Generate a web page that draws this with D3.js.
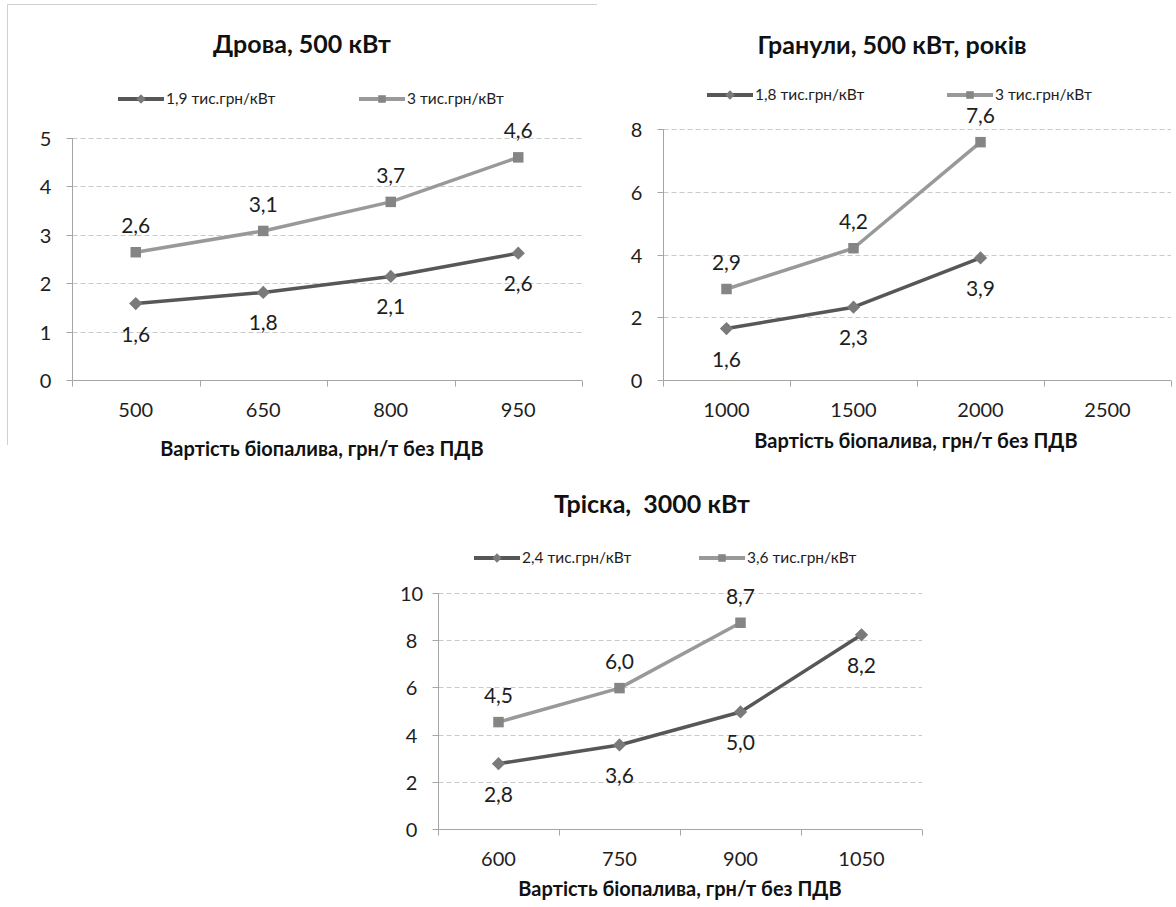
<!DOCTYPE html>
<html><head><meta charset="utf-8">
<script src="https://cdn.jsdelivr.net/npm/d3@7"></script>
<style>
html,body{margin:0;padding:0;background:#fff;}
svg{display:block;font-family:Lato,"Open Sans",sans-serif;}
</style></head>
<body>
<svg id="c" width="1176" height="907"></svg>
<script>
// ---- Data ----
const titles = ["Дрова, 500 кВт", "Гранули, 500 кВт, років", "Тріска,  3000 кВт"];
const xAxisTitle = "Вартість біопалива, грн/т без ПДВ";

const drovaCategories = ["500", "650", "800", "950"];
const drovaLowLabel = "1,9 тис.грн/кВт";
const drovaHighLabel = "3 тис.грн/кВт";
const drovaLow = [1.58, 1.81, 2.14, 2.62];
const drovaHigh = [2.64, 3.08, 3.68, 4.60];
const drovaTicks = [0, 1, 2, 3, 4, 5];

const granCategories = ["1000", "1500", "2000", "2500"];
const granLowLabel = "1,8 тис.грн/кВт";
const granHighLabel = "3 тис.грн/кВт";
const granLow = [1.64, 2.32, 3.89, null];
const granHigh = [2.90, 4.20, 7.58, null];
const granTicks = [0, 2, 4, 6, 8];

const triskaCategories = ["600", "750", "900", "1050"];
const triskaLowLabel = "2,4 тис.грн/кВт";
const triskaHighLabel = "3,6 тис.грн/кВт";
const triskaLow = [2.77, 3.56, 4.96, 8.23];
const triskaHigh = [4.53, 5.97, 8.74, null];
const triskaTicks = [0, 2, 4, 6, 8, 10];

// ---- Style ----
const darkLine = "#575757", darkMarker = "#7a7a7a";
const lightLine = "#999999", lightMarker = "#858585";
const gridColor = "#c9c9c9", axisColor = "#a6a6a6", textColor = "#1e1e1e";
const FS = {title: 25, legend: 15.5, tick: 20, label: 21, xtitle: 20};

const svg = d3.select("#c");
const fmt = v => d3.format(".1f")(v).replace(".", ",");

// border fragment of the first chart frame
svg.append("path").attr("d", "M7.5,445 V4.5 H597").attr("fill", "none")
  .attr("stroke", "#d0d0d0").attr("stroke-width", 1);

function drawChart(cfg) {
  const g = svg.append("g");
  const x = d3.scaleBand().domain(cfg.categories).range([cfg.x0, cfg.x1]).padding(0);
  const y = d3.scaleLinear().domain([0, d3.max(cfg.ticks)]).range([cfg.yBottom, cfg.yTop]);
  const cx = c => x(c) + x.bandwidth() / 2;
  const ax = Math.round(cfg.x0) + 0.5;

  // gridlines
  g.selectAll(".grid").data(cfg.ticks.filter(t => t > 0)).join("line")
    .attr("x1", ax).attr("x2", cfg.x1)
    .attr("y1", d => Math.round(y(d)) + 0.5).attr("y2", d => Math.round(y(d)) + 0.5)
    .attr("stroke", gridColor).attr("stroke-dasharray", "5,3");

  // y axis
  const yAxis = d3.axisLeft(y).tickValues(cfg.ticks).tickSize(6).tickPadding(0).tickFormat(d3.format("d"));
  const ya = g.append("g").attr("transform", `translate(${ax},0)`).call(yAxis);
  ya.selectAll(".tick").attr("transform", d => `translate(0,${Math.round(y(d)) + 0.5})`);
  ya.select(".domain").attr("stroke", axisColor).attr("d", `M0,${Math.round(y(d3.max(cfg.ticks)))}V${Math.round(cfg.yBottom) + 0.5}`);
  ya.selectAll(".tick line").attr("stroke", axisColor);
  ya.selectAll(".tick text").attr("fill", textColor).attr("text-anchor", "middle")
    .attr("x", -27).attr("dy", "0.35em")
    .style("font-size", FS.tick + "px").style("font-family", "Lato,'Open Sans',sans-serif");

  // x axis line with ticks at band boundaries
  const bounds = cfg.categories.map(c => x(c)).concat([cfg.x1]);
  const xb = Math.round(cfg.yBottom) + 0.5;
  g.append("line").attr("x1", ax).attr("x2", cfg.x1).attr("y1", xb).attr("y2", xb).attr("stroke", axisColor);
  g.selectAll(".xt").data(bounds).join("line")
    .attr("x1", d => Math.round(d) + 0.5).attr("x2", d => Math.round(d) + 0.5)
    .attr("y1", xb).attr("y2", xb + 6).attr("stroke", axisColor);
  g.selectAll(".xl").data(cfg.categories).join("text")
    .attr("x", d => cx(d)).attr("y", cfg.yBottom + 37).attr("text-anchor", "middle")
    .attr("fill", textColor).style("font-size", FS.tick + "px").text(d => d);

  // axis title
  g.append("text").attr("x", cfg.xTitleX).attr("y", cfg.xTitleY).attr("text-anchor", "middle")
    .attr("fill", "#111").style("font-size", FS.xtitle + "px").style("font-weight", "bold").text(xAxisTitle);

  // chart title
  g.append("text").attr("x", cfg.titleX).attr("y", cfg.titleY).attr("text-anchor", "middle")
    .attr("fill", "#111").style("font-size", FS.title + "px").style("font-weight", "bold")
    .style("white-space", "pre").text(cfg.title);

  const square = d3.symbol(d3.symbolSquare, 110)();
  const diamond = d3.symbol(d3.symbolSquare, 88)();
  const series = [
    {vals: cfg.high, line: lightLine, marker: lightMarker, path: square, rot: 0, lab: cfg.highLabel, pos: "above", legX: cfg.legX2},
    {vals: cfg.low, line: darkLine, marker: darkMarker, path: diamond, rot: 45, lab: cfg.lowLabel, pos: "below", legX: cfg.legX1}
  ];

  // legend
  series.forEach(s => {
    const lg = g.append("g").attr("transform", `translate(${s.legX},${cfg.legY})`);
    lg.append("line").attr("x1", 0).attr("x2", 46).attr("y1", 0).attr("y2", 0)
      .attr("stroke", s.line).attr("stroke-width", 4);
    lg.append("path").attr("d", s.path).attr("transform", `translate(23,0) rotate(${s.rot}) scale(0.72)`).attr("fill", s.marker);
    lg.append("text").attr("x", 48).attr("y", 0).attr("dy", "0.35em").attr("fill", textColor)
      .style("font-size", FS.legend + "px").text(s.lab);
  });

  // series
  series.slice().reverse().forEach(s => {
    const pts = cfg.categories.map((c, i) => ({c, v: s.vals[i]})).filter(p => p.v != null);
    const line = d3.line().x(p => cx(p.c)).y(p => y(p.v));
    g.append("path").datum(pts).attr("d", line).attr("fill", "none")
      .attr("stroke", s.line).attr("stroke-width", 3.5).attr("stroke-linejoin", "round");
    g.selectAll(null).data(pts).join("path")
      .attr("d", s.path)
      .attr("transform", p => `translate(${cx(p.c)},${y(p.v)}) rotate(${s.rot})`).attr("fill", s.marker);
    g.selectAll(null).data(pts).join("text")
      .attr("x", p => cx(p.c)).attr("y", p => y(p.v) + (s.pos === "above" ? -19 : 38))
      .attr("text-anchor", "middle").attr("fill", textColor).style("font-size", FS.label + "px")
      .text(p => fmt(p.v));
  });
}

drawChart({title: titles[0], categories: drovaCategories, low: drovaLow, high: drovaHigh,
  lowLabel: drovaLowLabel, highLabel: drovaHighLabel, ticks: drovaTicks,
  x0: 72, x1: 582, yTop: 138, yBottom: 380, titleX: 302, titleY: 53,
  legX1: 118, legX2: 359, legY: 99, xTitleX: 322, xTitleY: 456});

drawChart({title: titles[1], categories: granCategories, low: granLow, high: granHigh,
  lowLabel: granLowLabel, highLabel: granHighLabel, ticks: granTicks,
  x0: 663, x1: 1171, yTop: 129, yBottom: 380, titleX: 892, titleY: 54,
  legX1: 707, legX2: 947, legY: 95, xTitleX: 916, xTitleY: 448});

drawChart({title: titles[2], categories: triskaCategories, low: triskaLow, high: triskaHigh,
  lowLabel: triskaLowLabel, highLabel: triskaHighLabel, ticks: triskaTicks,
  x0: 438, x1: 922, yTop: 593, yBottom: 829, titleX: 652, titleY: 513,
  legX1: 474, legX2: 699, legY: 558, xTitleX: 680, xTitleY: 896});
</script>
</body></html>
